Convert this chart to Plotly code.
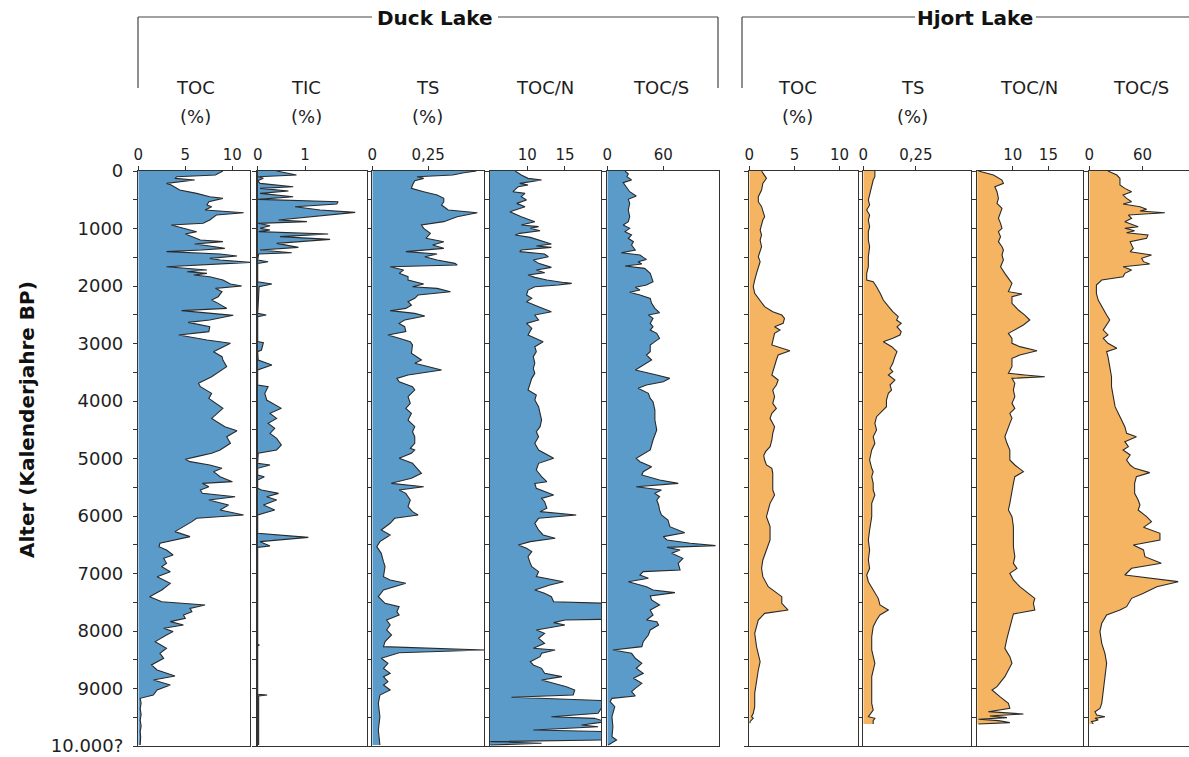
import plotly.graph_objects as go

W, H = 1189, 757

# ---------------- data (age in calendar years BP, values per proxy) ----------------
DUCK_TOC_AGE = [0,41,70,99,128,157,186,215,244,302,
    331,389,447,476,534,592,621,679,725,766,
    852,910,939,1026,1055,1096,1142,1200,1229,1270,
    1305,1345,1374,1403,1444,1479,1519,1548,1589,1618,
    1664,1722,1751,1780,1809,1838,1896,1966,2000,2041,
    2099,2186,2244,2302,2389,2429,2510,2592,2632,2708,
    2794,2852,2939,2997,3142,3229,3287,3403,3577,3693,
    3751,3867,3954,4128,4302,4447,4516,4621,4736,4852,
    4910,4968,5014,5055,5113,5171,5229,5316,5403,5432,
    5490,5548,5606,5664,5722,5809,5895,5982,6040,6098,
    6185,6272,6359,6417,6475,6533,6591,6678,6736,6823,
    6881,6968,7055,7171,7287,7403,7490,7548,7606,7664,
    7722,7780,7837,7895,7953,8011,8069,8185,8301,8388,
    8475,8591,8678,8782,8852,8939,9026,9113,9171,9258,
    9350,9450,9550,9650,9750,9850,9983]
DUCK_TOC = [9.0,8.5,8.2,4.1,3.9,6.0,4.1,3.0,3.5,4.1,
    4.4,6.2,7.6,9.0,7.5,7.3,7.8,7.1,11.2,8.3,
    7.6,6.9,3.5,5.5,6.2,5.0,5.7,6.6,9.0,6.0,
    7.6,9.2,6.7,3.0,8.7,10.5,7.6,8.7,11.9,8.0,
    3.0,7.3,5.2,7.3,5.9,7.6,9.0,9.8,11.0,8.2,
    8.9,8.5,7.8,8.5,9.4,4.6,10.1,7.6,5.3,7.6,
    7.5,4.3,7.3,9.8,8.0,8.9,9.0,9.4,7.8,6.4,
    6.6,7.8,7.5,9.0,7.8,9.2,10.5,9.4,9.8,8.7,
    7.8,6.2,5.0,5.5,7.6,8.9,8.0,8.7,10.0,6.8,
    7.5,6.6,6.8,10.3,7.5,9.6,8.7,11.2,6.2,5.7,
    4.8,3.9,5.5,3.7,2.3,2.2,3.0,3.7,2.7,3.0,
    2.5,3.4,2.0,3.4,2.5,1.2,2.5,7.1,5.5,5.7,
    4.8,5.0,3.4,4.8,2.7,3.7,3.0,1.8,3.0,2.3,
    2.7,1.4,2.0,3.9,1.6,3.4,2.0,1.6,0.2,0.3,
    0.2,0.3,0.2,0.3,0.2,0.25,0.2]

DUCK_TIC_AGE = [0,70,99,128,168,215,273,302,348,389,
    447,493,534,574,621,679,719,795,852,881,
    910,951,997,1026,1055,1096,1142,1189,1258,1328,
    1374,1421,1444,1548,1577,1606,1925,1966,2012,2476,
    2505,2534,2968,2986,3113,3142,3287,3374,3461,3722,
    3751,3867,3983,4128,4215,4302,4389,4476,4563,4649,
    4765,4852,4910,5084,5113,5171,5287,5316,5374,5519,
    5548,5606,5664,5722,5809,5895,5982,6301,6371,6446,
    6521,6545,8230,8243,8260,9100,9113,9130,9983]
DUCK_TIC = [0.4,0.82,0.01,0.12,0,0.05,0.75,0.05,0.65,0.05,
    0.75,0.01,1.7,1.67,0.79,1.32,2.06,1.1,0.44,1.04,
    0.01,0.26,0.05,0.26,0.02,1.49,0.47,1.53,0.4,0.86,
    0.05,0.72,0.02,0,0.22,0,0,0.3,0.03,0,
    0.18,0,0,0.12,0.08,0,0.01,0.3,0,0,
    0.22,0.15,0.19,0.5,0.26,0.4,0.22,0.36,0.26,0.4,
    0.5,0.4,0.01,0,0.26,0,0,0.14,0,0,
    0.08,0.44,0.19,0.4,0.12,0.36,0,0,1.07,0.05,
    0.26,0,0,0.03,0,0,0.2,0.02,0.02]

DUCK_TS_AGE = [0,29,70,99,128,168,244,302,360,418,
    476,534,592,679,725,795,881,939,997,1084,
    1171,1229,1287,1345,1403,1444,1490,1548,1606,1635,
    1664,1722,1780,1838,1896,1966,2012,2041,2099,2157,
    2215,2273,2331,2389,2429,2476,2522,2592,2650,2708,
    2794,2852,2910,2968,3026,3171,3287,3345,3461,3548,
    3606,3664,3751,3809,3925,4041,4128,4215,4331,4447,
    4534,4621,4736,4823,4852,4910,4997,5084,5171,5258,
    5345,5432,5490,5548,5606,5722,5837,5924,5982,6040,
    6127,6243,6330,6446,6533,6649,6794,6881,7055,7113,
    7171,7287,7403,7519,7577,7664,7722,7809,7895,7982,
    8069,8185,8272,8330,8377,8417,8475,8562,8649,8736,
    8794,8881,8939,9026,9113,9258,9490,9721,9983]
DUCK_TS = [0.466,0.41,0.36,0.2,0.23,0.19,0.18,0.175,0.23,0.29,
    0.32,0.32,0.31,0.34,0.47,0.38,0.32,0.22,0.23,0.26,
    0.24,0.32,0.27,0.32,0.15,0.29,0.235,0.29,0.37,0.38,
    0.08,0.14,0.12,0.16,0.16,0.23,0.18,0.29,0.35,0.205,
    0.19,0.16,0.175,0.15,0.08,0.19,0.235,0.145,0.12,0.145,
    0.15,0.07,0.12,0.17,0.18,0.175,0.22,0.19,0.31,0.16,
    0.11,0.12,0.18,0.19,0.16,0.17,0.15,0.175,0.16,0.19,
    0.18,0.19,0.19,0.17,0.19,0.175,0.12,0.18,0.2,0.22,
    0.175,0.085,0.23,0.12,0.15,0.17,0.16,0.18,0.205,0.1,
    0.08,0.04,0.08,0.034,0.02,0.04,0.05,0.057,0.05,0.08,
    0.15,0.05,0.027,0.057,0.12,0.11,0.12,0.064,0.08,0.064,
    0.086,0.057,0.05,0.5,0.12,0.086,0.04,0.07,0.05,0.08,
    0.05,0.07,0.05,0.08,0.034,0.027,0.034,0.027,0.034]

DUCK_CN_AGE = [0,70,128,157,215,244,273,360,389,447,
    505,563,621,708,795,881,939,968,997,1038,
    1084,1113,1154,1229,1270,1305,1328,1374,1403,1444,
    1490,1548,1606,1676,1722,1768,1809,1850,1896,1942,
    1954,1983,2012,2070,2157,2215,2273,2360,2447,2505,
    2592,2650,2737,2852,2968,3055,3142,3229,3345,3432,
    3519,3606,3693,3809,3896,3983,4099,4215,4331,4447,
    4534,4621,4736,4852,4939,4997,5084,5200,5316,5403,
    5432,5519,5635,5693,5751,5866,5924,5982,6040,6127,
    6243,6330,6388,6446,6504,6562,6620,6707,6823,6881,
    6968,7055,7142,7200,7287,7345,7403,7490,7519,7797,
    7809,7855,7895,7982,8040,8127,8214,8301,8330,8388,
    8446,8533,8591,8649,8736,8794,8852,8910,8968,9026,
    9113,9153,9188,9211,9432,9490,9519,9577,9635,9664,
    9721,9750,9895,9924,9953,9983]
DUCK_CN = [8.4,9.2,10.1,11.9,9.0,10.1,8.8,8.1,9.7,9.2,
    9.9,8.6,9.7,7.7,9.2,11.0,9.2,11.5,10.4,11.7,
    9.0,8.4,10.4,12.3,13.2,11.2,13.2,9.2,9.0,12.3,
    12.8,10.8,11.5,13.2,11.2,12.3,10.1,11.0,12.6,15.0,
    15.9,14.1,11.0,10.1,9.9,10.6,9.9,11.5,13.2,11.0,
    11.5,9.9,10.6,10.1,12.1,11.0,11.2,10.8,11.0,10.8,
    11.0,10.6,10.4,10.1,11.2,11.0,11.5,11.7,11.9,11.7,
    11.2,11.5,11.0,11.5,12.8,13.5,11.5,11.2,11.9,12.6,
    11.0,11.2,13.5,11.9,12.3,12.6,11.7,16.5,11.5,11.0,
    11.5,12.1,13.7,10.4,8.8,9.9,10.6,10.1,10.4,10.6,
    11.5,11.2,14.8,13.0,11.0,12.3,13.2,13.5,20.5,20.5,
    15.0,13.5,15.0,11.2,12.3,11.5,12.3,10.8,13.7,11.9,
    11.7,10.4,10.8,11.9,12.3,14.6,11.9,13.7,15.2,16.3,
    16.1,7.9,17.2,20.5,19.4,13.2,18.9,20.5,17.2,19.4,
    10.8,20.5,20.5,5.1,11.9,5.1]

DUCK_CS_AGE = [0,52,99,157,203,244,302,360,435,493,
    563,679,795,881,939,997,1055,1113,1171,1229,
    1287,1374,1421,1461,1502,1537,1577,1618,1652,1693,
    1780,1838,1925,1983,2023,2070,2110,2157,2215,2302,
    2389,2464,2505,2563,2650,2708,2766,2823,2910,2968,
    3026,3142,3200,3287,3345,3461,3548,3606,3664,3722,
    3780,3867,3954,4012,4157,4331,4505,4678,4852,4910,
    4997,5055,5142,5229,5287,5374,5432,5490,5548,5606,
    5664,5722,5809,5895,5982,6069,6185,6290,6359,6417,
    6475,6516,6545,6591,6649,6736,6823,6939,6968,7026,
    7084,7142,7229,7287,7333,7391,7461,7548,7635,7722,
    7809,7837,7895,7982,8069,8185,8272,8330,8388,8475,
    8562,8649,8736,8823,8910,8997,9055,9130,9171,9229,
    9316,9490,9664,9837,9895,9983]
DUCK_CS = [19,22.5,21,26,17,19,21,24,31,22.5,
    24,22.5,24,22.5,17,24,19,26,22.5,28,
    26,30,15,35,38.5,42,33,37,19,40,
    46,47.5,49,42,30,35,24,35,46,47.5,
    51,56,44,49,46,49,46,53,56,51,
    46,46,42,47.5,42,30,53,67,60,42,
    33,44,46,49,51,51,53,49,46,40,
    31,35,47.5,38.5,37,56,76,31,58,51,
    56,53,55,56,58,65,67,83,60,64,
    89,116,64,78,69,81,76,78,38.5,35,
    44,22.5,42,49,72.5,46,47.5,56,46,49,
    42,53,55,46,44,38.5,37,6,26,30,
    37,31,38.5,28,37,30,26,30,5,3,
    8,5,6,5,10,1]

HJORT_TOC_AGE = [0,70,128,215,331,447,534,621,708,795,
    852,939,1026,1113,1200,1316,1403,1490,1577,1664,
    1780,1896,2012,2128,2244,2360,2447,2505,2563,2650,
    2708,2766,2823,2939,3026,3125,3200,3287,3403,3548,
    3635,3722,3809,3925,4041,4128,4215,4302,4447,4563,
    4678,4794,4881,4950,5026,5113,5171,5258,5548,5635,
    5780,6011,6185,6417,6591,6765,6910,7055,7229,7403,
    7519,7635,7693,7809,7924,8040,8272,8533,8678,8910,
    9084,9316,9432,9490,9519,9577,9606]
HJORT_TOC = [1.36,1.7,1.9,1.5,1.36,1.0,1.0,1.36,1.5,1.7,
    1.5,1.36,1.2,1.36,1.2,1.36,1.2,1.0,1.2,1.0,
    0.8,0.6,0.44,0.6,1.2,1.7,2.6,3.6,3.9,3.75,
    2.8,3.4,2.8,2.6,2.5,4.5,3.2,3.0,2.8,2.5,
    3.2,3.0,2.6,2.8,2.6,3.0,2.5,2.3,2.8,2.6,
    2.5,2.3,1.8,1.6,1.7,1.9,2.5,2.6,2.6,2.8,
    2.3,1.9,2.3,2.3,1.9,1.5,1.36,1.5,2.1,3.6,
    3.6,4.3,1.7,1.0,0.8,0.6,0.8,1.2,1.0,0.8,
    0.6,0.6,0.44,0.25,0.44,0.07,0.07]

HJORT_TS_AGE = [0,99,157,273,389,505,592,679,766,852,
    968,1055,1200,1316,1490,1664,1780,1896,1925,2012,
    2128,2244,2360,2447,2534,2592,2650,2708,2794,2852,
    2910,2968,3055,3142,3229,3345,3432,3490,3548,3635,
    3722,3809,3867,3983,4099,4186,4273,4389,4505,4621,
    4736,4852,5026,5171,5229,5316,5432,5548,5635,5780,
    6011,6243,6417,6591,6765,6910,7026,7142,7287,7432,
    7548,7635,7722,7809,7924,8098,8330,8562,8794,9026,
    9258,9374,9490,9519,9559,9617]
HJORT_TS = [0.055,0.055,0.047,0.04,0.03,0.024,0.03,0.016,0.03,0.024,
    0.03,0.024,0.024,0.03,0.024,0.024,0.016,0.016,0.047,0.063,
    0.08,0.095,0.12,0.14,0.166,0.158,0.18,0.16,0.18,0.174,
    0.14,0.095,0.135,0.16,0.15,0.14,0.127,0.14,0.119,0.15,
    0.127,0.134,0.119,0.11,0.11,0.087,0.063,0.055,0.063,0.047,
    0.055,0.04,0.03,0.04,0.047,0.04,0.047,0.047,0.055,0.04,
    0.04,0.03,0.024,0.03,0.024,0.03,0.016,0.024,0.047,0.071,
    0.079,0.119,0.079,0.063,0.047,0.04,0.04,0.055,0.04,0.04,
    0.04,0.047,0.024,0.055,0.047,0.047]

HJORT_CN_AGE = [0,70,157,215,273,360,476,563,650,737,
    823,910,997,1055,1142,1229,1316,1374,1461,1548,
    1606,1664,1780,1867,1954,2041,2099,2139,2186,2302,
    2418,2505,2592,2679,2766,2823,2910,2997,3055,3125,
    3200,3258,3403,3519,3548,3577,3606,3693,3809,3925,
    4041,4128,4215,4302,4389,4505,4621,4736,4852,5026,
    5113,5229,5316,5432,5606,5780,5895,6011,6185,6359,
    6533,6707,6823,6910,6997,7113,7229,7345,7432,7519,
    7635,7704,7924,8127,8301,8446,8562,8794,8968,9026,
    9142,9258,9345,9403,9443,9478,9507,9536,9559,9594,
    9617]
HJORT_CN = [5.2,7.3,8.5,8.7,7.5,7.8,8.0,7.8,8.5,8.3,
    8.0,8.3,8.5,8.0,8.3,8.0,8.5,8.7,8.5,8.7,
    8.5,8.3,8.9,9.4,9.9,9.6,9.4,11.3,9.9,9.9,
    10.8,11.7,12.4,11.5,10.3,9.4,9.9,9.9,11.0,13.4,
    11.0,9.9,9.9,9.4,11.7,14.5,9.9,10.3,10.1,10.3,
    9.9,10.3,9.6,9.9,9.6,9.2,8.9,9.2,9.6,9.6,
    10.3,11.5,10.3,10.1,9.9,9.6,9.4,9.9,10.1,10.1,
    10.1,10.3,10.1,10.6,9.6,10.1,11.0,12.2,13.1,12.9,
    13.1,10.1,9.6,9.2,8.9,9.6,9.9,8.9,7.8,7.1,
    8.2,9.4,9.6,6.6,11.5,6.8,9.2,5.2,8.0,9.6,
    5.2]

HJORT_CS_AGE = [0,70,128,244,302,360,418,476,534,574,
    621,667,696,725,766,823,881,939,968,997,
    1038,1073,1113,1171,1229,1287,1345,1403,1461,1519,
    1577,1618,1664,1722,1780,1838,1896,1983,2128,2244,
    2360,2447,2505,2592,2679,2766,2852,2910,2997,3084,
    3142,3229,3403,3577,3751,3925,4099,4215,4331,4447,
    4563,4621,4707,4794,4852,4939,5026,5113,5171,5246,
    5316,5432,5606,5722,5809,5895,6011,6098,6197,6301,
    6417,6504,6591,6707,6823,6910,7026,7142,7229,7345,
    7432,7577,7635,7722,7866,8011,8214,8388,8562,8794,
    9026,9258,9345,9403,9461,9490,9519,9548,9577,9617]
HJORT_CS = [21,31,34.5,34.5,40,47.6,38,42,47.6,38,
    57,64.5,57,85,44,47.6,40,49.5,55,40,
    51,42,66,64.5,46,47.6,49.5,46,70,59,
    61,68,38,47.6,40,38,14,8,8,10,
    14,17.6,19.5,23,19.5,15.7,21,15.7,21,31,
    19.5,21,23,25,25,27,29,32.6,36,40,
    42,53,40,44,38,46,42,46,51,68,
    53,51,51,55,57,55,64.5,70,61,79.5,
    79.5,49.5,61,62.6,81,47.6,40,100,76,61,
    47.6,42,34.5,19.5,14,12,14,17.6,19.5,17.6,
    15.7,14,12,6.4,8.3,17.6,6.4,10,2.6,4.5]

PANEL_TITLES = ["TOC", "TIC", "TS", "TOC/N", "TOC/S", "TOC", "TS", "TOC/N", "TOC/S"]
PANEL_UNITS = ["(%)", "(%)", "(%)", "", "", "(%)", "(%)", "", ""]
X_TICKVALS = [[0, 5, 10], [0, 1], [0, 0.25], [10, 15], [0, 60],
              [0, 5, 10], [0, 0.25], [10, 15], [0, 60]]
X_TICKTEXT = [["0", "5", "10"], ["0", "1"], ["0", "0,25"], ["10", "15"], ["0", "60"],
              ["0", "5", "10"], ["0", "0,25"], ["10", "15"], ["0", "60"]]
LAKES = ["Duck Lake", "Hjort Lake"]
AGE_TICKS = list(range(0, 10001, 500))
AGE_LABELS = ["0", "", "1000", "", "2000", "", "3000", "", "4000", "", "5000", "",
              "6000", "", "7000", "", "8000", "", "9000", "", "10.000?"]
Y_TITLE = "Alter (Kalenderjahre BP)"

# ---------------- styling / layout ----------------
BLUE = "#5b9bca"
ORANGE = "#f4b462"
OUTLINE = "#2a2a2a"
AXC = "#333333"
TXT = "#1e1e1e"
FONT = "DejaVu Sans"

SERIES = [(DUCK_TOC_AGE, DUCK_TOC), (DUCK_TIC_AGE, DUCK_TIC), (DUCK_TS_AGE, DUCK_TS),
          (DUCK_CN_AGE, DUCK_CN), (DUCK_CS_AGE, DUCK_CS),
          (HJORT_TOC_AGE, HJORT_TOC), (HJORT_TS_AGE, HJORT_TS),
          (HJORT_CN_AGE, HJORT_CN), (HJORT_CS_AGE, HJORT_CS)]
FILLS = [BLUE] * 5 + [ORANGE] * 4
X_RANGES = [[0, 11.88], [0, 2.31], [0, 0.5], [5.05, 19.79], [0, 119.7],
            [0, 11.99], [0, 0.51], [5.04, 19.81], [0, 112.2]]
PANEL_PX = [(138.3, 250), (257.7, 367), (372.3, 484), (490, 601), (607.3, 719),
            (749.3, 857.5), (863.3, 970.7), (977.3, 1082.7), (1089.3, 1189)]
TITLE_X_PX = [195, 306, 427, 545, 661, 797, 912, 1029, 1141]
TOP_PX, BOT_PX = 171, 746


def px(x):
    return x / W


def py(y):
    return 1 - y / H


fig = go.Figure()
layout = {}
for i in range(9):
    n = "" if i == 0 else str(i + 1)
    ages, vals = SERIES[i]
    fig.add_trace(go.Scatter(
        x=vals, y=ages, xaxis="x" + n, yaxis="y" + n, mode="lines",
        fill="tozerox", fillcolor=FILLS[i],
        line=dict(color=OUTLINE, width=1.1), hoverinfo="skip", showlegend=False))
    l, r = PANEL_PX[i]
    layout["xaxis" + n] = dict(
        domain=[px(l), min(px(r), 1.0)], range=X_RANGES[i], side="top", anchor="y" + n,
        showline=True, mirror=True, linecolor=AXC, linewidth=1.4,
        ticks="outside", ticklen=4, tickwidth=1, tickcolor=AXC,
        tickvals=X_TICKVALS[i], ticktext=X_TICKTEXT[i],
        tickfont=dict(family=FONT, size=15, color=TXT),
        showgrid=False, zeroline=False, fixedrange=True)
    layout["yaxis" + n] = dict(
        domain=[py(BOT_PX), py(TOP_PX)], range=[10000, 0], anchor="x" + n,
        showline=True, mirror=(i != 8), linecolor=AXC, linewidth=1.4,
        ticks="outside", ticklen=4, tickwidth=1, tickcolor=AXC,
        tickvals=AGE_TICKS, ticktext=AGE_LABELS, showticklabels=(i == 0),
        ticklabelstandoff=6,
        tickfont=dict(family=FONT, size=18, color=TXT),
        showgrid=False, zeroline=False, fixedrange=True)

annotations = []
for i in range(9):
    annotations.append(dict(text=PANEL_TITLES[i], x=px(TITLE_X_PX[i]), y=py(87),
                            xref="paper", yref="paper", showarrow=False,
                            xanchor="center", yanchor="middle",
                            font=dict(family=FONT, size=18, color=TXT)))
    if PANEL_UNITS[i]:
        annotations.append(dict(text=PANEL_UNITS[i], x=px(TITLE_X_PX[i]), y=py(116),
                                xref="paper", yref="paper", showarrow=False,
                                xanchor="center", yanchor="middle",
                                font=dict(family=FONT, size=18, color=TXT)))
LAKE_X_PX = [435, 975]
for name, lx in zip(LAKES, LAKE_X_PX):
    annotations.append(dict(text=name, x=px(lx), y=py(18), xref="paper", yref="paper",
                            showarrow=False, xanchor="center", yanchor="middle",
                            font=dict(family=FONT, size=20, color="#111", weight="bold")))
annotations.append(dict(text=Y_TITLE, x=px(27), y=py(420), xref="paper", yref="paper",
                        showarrow=False, textangle=-90, xanchor="center", yanchor="middle",
                        font=dict(family=FONT, size=20, color="#111", weight="bold")))

BRACKETS = [((138, 17), (138, 88)), ((138, 17), (372, 17)), ((498, 17), (718, 17)),
            ((718, 17), (718, 88)),
            ((742, 17), (742, 88)), ((742, 17), (915, 17)), ((1036, 17), (1189, 17))]
shapes = [dict(type="line", xref="paper", yref="paper", x0=px(a[0]), y0=py(a[1]),
               x1=px(b[0]), y1=py(b[1]), line=dict(color="#444", width=1.2))
          for a, b in BRACKETS]

fig.update_layout(**layout)
fig.update_layout(width=W, height=H, margin=dict(l=0, r=0, t=0, b=0, autoexpand=False),
                  paper_bgcolor="white", plot_bgcolor="white",
                  annotations=annotations, shapes=shapes, showlegend=False)
fig.write_html("out.html", config={"displayModeBar": False, "staticPlot": True})

# remove the browser's default page margin so the figure sits at the window origin
with open("out.html", "r", encoding="utf-8") as f:
    html = f.read()
html = html.replace("<head>", "<head><style>html,body{margin:0;padding:0;overflow:hidden;}</style>", 1)
with open("out.html", "w", encoding="utf-8") as f:
    f.write(html)
